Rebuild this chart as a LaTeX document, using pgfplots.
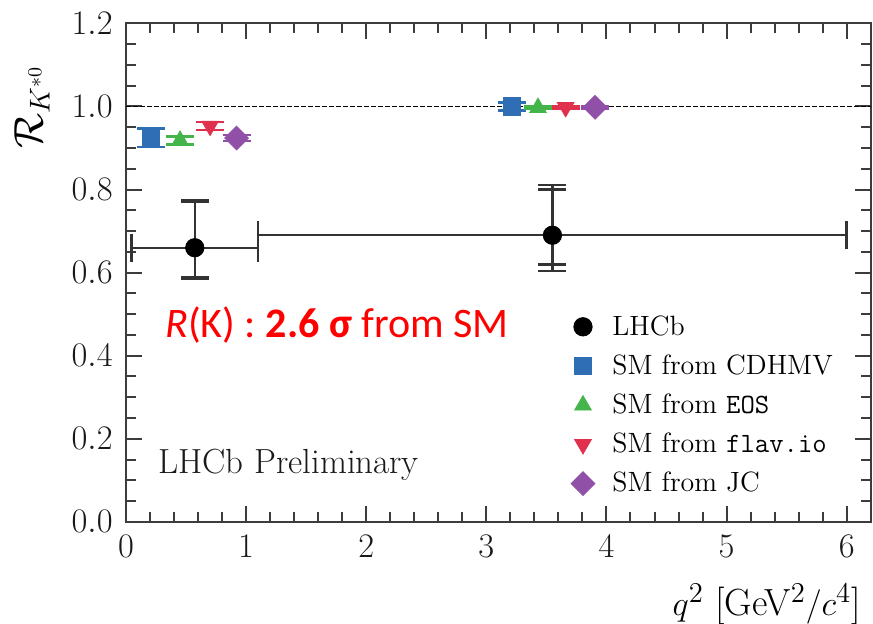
\documentclass[border=0pt]{standalone}
\usepackage{fontspec}
\usepackage{pgfplots}
\pgfplotsset{compat=1.18}
\newfontfamily\calib{Carlito}
\definecolor{cblue}{HTML}{2F6DB5}
\definecolor{cgreen}{HTML}{44B54A}
\definecolor{cred}{HTML}{E0304E}
\definecolor{cpurp}{HTML}{9050A8}
\definecolor{axgray}{HTML}{3C3C3C}
\pgfplotsset{
  smerr/.style={error bars/.cd, y dir=both, y explicit,
    error bar style={line width=1.2bp},
    error mark options={rotate=90, mark size=7bp, line width=1.2bp}},
}
\begin{document}
\begin{tikzpicture}
\begin{axis}[
  scale only axis, width=372.3bp, height=249.2bp,
  xmin=0, xmax=6.2, ymin=0, ymax=1.2,
  xtick={0,1,2,3,4,5,6}, ytick={0,0.2,0.4,0.6,0.8,1.0,1.2},
  minor x tick num=4, minor y tick num=3,
  tick align=inside, tick pos=both,
  major tick length=8bp, minor tick length=5bp,
  axis line style={axgray, line width=1.1bp},
  every tick/.style={axgray, line width=1bp},
  tick label style={font=\fontsize{16.3}{19}\selectfont, text=black!90},
  yticklabel style={/pgf/number format/fixed, /pgf/number format/fixed zerofill, /pgf/number format/precision=1, inner sep=0pt, xshift=-6.5bp},
  xticklabel style={inner sep=0pt, yshift=-6.7bp},
  clip=false,
  xlabel={$q^2$ [GeV$^2/c^4$]},
  ylabel={$\mathcal{R}_{K^{*0}}$},
  every axis x label/.style={at={(rel axis cs:1,0)}, xshift=-4.8bp, yshift=-31bp, anchor=north east, inner sep=0pt, font=\fontsize{19}{22}\selectfont},
  every axis y label/.style={at={(rel axis cs:0,1)}, xshift=-38bp, yshift=-21bp, rotate=90, anchor=south east, inner sep=0pt, font=\fontsize{19.5}{24}\selectfont},
  legend style={draw=none, fill=none, at={(axis cs:3.615,0.517)}, anchor=north west, font=\fontsize{14}{16.5}\selectfont, row sep=4.3bp},
  legend cell align=left,
  legend image code/.code={\path (0bp,0bp) (20.5bp,0bp); \draw[mark repeat=2,mark phase=2] plot coordinates {(0bp,0bp)(8bp,0bp)(16bp,0bp)};},
]
% SM line
\addplot[forget plot, black, dash pattern=on 2.5bp off 1bp, line width=0.7bp] coordinates {(0,1) (6.2,1)};
% LHCb total errors
\addplot[forget plot, black, only marks, mark=none,
  error bars/.cd, y dir=both, y explicit,
  error bar style={line width=1.2bp, black!80},
  error mark options={rotate=90, mark size=7bp, line width=1.2bp, black!80}]
 coordinates {
  (0.5725,0.66) += (0,0.114) -= (0,0.076)
  (3.55,0.69) += (0,0.121) -= (0,0.086)
 };
% LHCb stat errors
\addplot[black, only marks, mark=*, mark size=4.6bp,
  error bars/.cd, x dir=both, x explicit, y dir=both, y explicit,
  error bar style={line width=1.2bp, black!80},
  error mark options={rotate=90, mark size=7bp, line width=1.2bp, black!80}]
 coordinates {
  (0.5725,0.66) += (0.5275,0.11) -= (0.5275,0.07)
  (3.55,0.69) += (2.45,0.11) -= (2.45,0.07)
 };
\addlegendentry{LHCb}
\addplot[cblue, only marks, mark=square*, mark size=4.3bp, smerr]
 coordinates {(0.207,0.925) +- (0,0.022) (3.21,1.0) +- (0,0.010)};
\addlegendentry{SM from CDHMV}
\addplot[cgreen, only marks, mark=triangle*, mark size=4.8bp, smerr]
 coordinates {(0.45,0.918) +- (0,0.010) (3.43,0.997) +- (0,0.003)};
\addlegendentry{SM from \texttt{EOS}}
\addplot[cred, only marks, mark=triangle*, mark size=4.8bp, mark options={rotate=180}, smerr]
 coordinates {(0.70,0.953) +- (0,0.009) (3.66,0.998) +- (0,0.003)};
\addlegendentry{SM from \texttt{flav.io}}
\addplot[cpurp, only marks, mark=square*, mark size=4.2bp, mark options={rotate=45}, smerr]
 coordinates {(0.92,0.924) +- (0,0.007) (3.905,0.998) +- (0,0.003)};
\addlegendentry{SM from JC}
\node[anchor=west, font=\fontsize{17.5}{20}\selectfont, text=black!90, inner sep=0pt] at (axis cs:0.266,0.137) {LHCb Preliminary};
\node[font=\calib\fontsize{21.1}{25}\selectfont, text=red, inner sep=0pt] at (axis cs:1.757,0.473) {\textit{R}(K) : \textbf{2.6 σ} from SM};
\end{axis}
\pgfresetboundingbox
\path[use as bounding box] ([shift={(-63bp,-50.7bp)}]current axis.south west) rectangle ([shift={(1.15bp,11.7bp)}]current axis.north east);
\end{tikzpicture}
\end{document}
